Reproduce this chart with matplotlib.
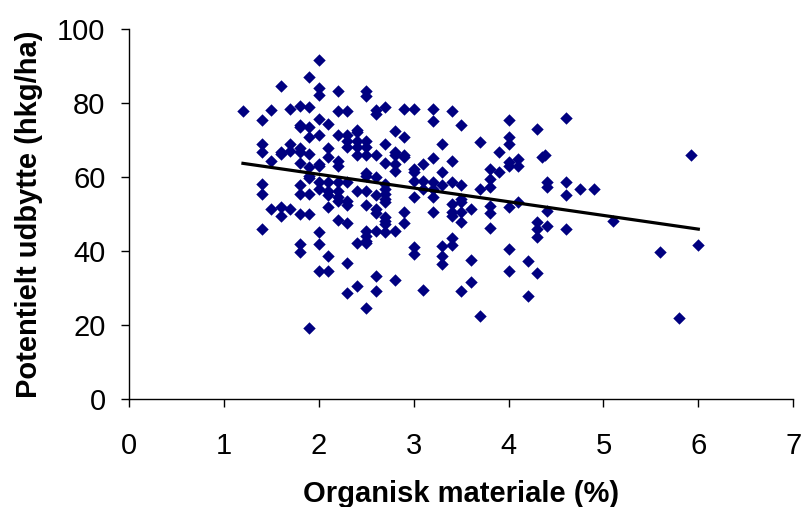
import numpy as np
import matplotlib
matplotlib.use("Agg")
import matplotlib.pyplot as plt

# ========================
# 1. Data
# ========================

organic = [
    1.2,
    1.4, 1.4, 1.4, 1.4, 1.4, 1.4,
    1.5, 1.5, 1.5,
    1.6, 1.6, 1.6, 1.6, 1.6,
    1.7, 1.7, 1.7, 1.7,
    1.8, 1.8, 1.8, 1.8, 1.8, 1.8, 1.8, 1.8, 1.8, 1.8, 1.8,
    1.9, 1.9, 1.9, 1.9, 1.9, 1.9, 1.9, 1.9, 1.9, 1.9, 1.9,
    2.0, 2.0, 2.0, 2.0, 2.0, 2.0, 2.0, 2.0, 2.0, 2.0, 2.0, 2.0,
    2.1, 2.1, 2.1, 2.1, 2.1, 2.1, 2.1, 2.1, 2.1,
    2.2, 2.2, 2.2, 2.2, 2.2, 2.2, 2.2, 2.2, 2.2, 2.2,
    2.3, 2.3, 2.3, 2.3, 2.3, 2.3, 2.3, 2.3, 2.3, 2.3,
    2.4, 2.4, 2.4, 2.4, 2.4, 2.4, 2.4, 2.4,
    2.5, 2.5, 2.5, 2.5, 2.5, 2.5, 2.5, 2.5, 2.5, 2.5, 2.5, 2.5, 2.5, 2.5,
    2.6, 2.6, 2.6, 2.6, 2.6, 2.6, 2.6, 2.6, 2.6, 2.6,
    2.7, 2.7, 2.7, 2.7, 2.7, 2.7, 2.7, 2.7, 2.7, 2.7, 2.7, 2.7,
    2.8, 2.8, 2.8, 2.8, 2.8, 2.8, 2.8,
    2.9, 2.9, 2.9, 2.9, 2.9, 2.9,
    3.0, 3.0, 3.0, 3.0, 3.0, 3.0, 3.0,
    3.1, 3.1, 3.1, 3.1,
    3.2, 3.2, 3.2, 3.2, 3.2, 3.2, 3.2,
    3.3, 3.3, 3.3, 3.3, 3.3, 3.3,
    3.4, 3.4, 3.4, 3.4, 3.4, 3.4, 3.4, 3.4,
    3.5, 3.5, 3.5, 3.5, 3.5, 3.5, 3.5,
    3.6, 3.6, 3.6,
    3.7, 3.7, 3.7,
    3.8, 3.8, 3.8, 3.8, 3.8, 3.8,
    3.9, 3.9,
    4.0, 4.0, 4.0, 4.0, 4.0, 4.0, 4.0, 4.0,
    4.1, 4.1, 4.1,
    4.2, 4.2,
    4.3, 4.3, 4.3, 4.3, 4.3,
    4.35, 4.38, 4.4, 4.4, 4.4, 4.4,
    4.6, 4.6, 4.6, 4.6,
    4.75, 4.9, 5.1, 5.6, 5.8, 5.92, 6.0,
]

yield_pot = [
    77.7,
    75.5, 68.9, 66.7, 58.1, 55.4, 45.8,
    78.0, 64.2, 51.3,
    84.6, 66.7, 66.2, 51.8, 49.5,
    78.4, 68.9, 67.1, 51.3,
    79.3, 74.1, 73.6, 67.8, 66.7, 63.8, 57.7, 55.4, 50.0, 41.9, 39.6,
    87.1, 78.8, 73.4, 70.9, 66.2, 62.6, 60.2, 59.6, 55.4, 50.0, 19.1,
    91.7, 84.0, 82.2, 75.7, 71.2, 63.5, 62.9, 58.6, 56.8, 45.0, 41.9, 34.5,
    74.3, 67.8, 65.3, 58.6, 56.3, 55.0, 51.8, 38.7, 34.7,
    83.1, 77.9, 71.2, 64.4, 62.9, 58.6, 56.1, 54.5, 53.6, 48.4,
    77.9, 71.2, 69.8, 68.0, 58.7, 53.6, 52.3, 47.5, 36.7, 28.7,
    72.7, 72.1, 69.8, 68.0, 65.9, 56.3, 42.2, 30.5,
    83.1, 81.8, 69.8, 68.0, 65.8, 61.0, 60.2, 56.1, 52.3, 45.5, 44.1, 42.8, 42.1, 24.6,
    78.1, 77.0, 65.8, 59.9, 55.0, 51.4, 50.3, 45.5, 33.3, 29.1,
    78.8, 68.9, 63.8, 58.1, 56.8, 55.4, 54.1, 53.2, 49.1, 48.2, 47.3, 45.0,
    72.3, 66.7, 66.0, 63.5, 61.7, 45.5, 32.2,
    78.4, 70.9, 66.0, 65.3, 50.6, 47.5,
    78.4, 62.2, 61.3, 59.0, 54.7, 41.0, 39.2,
    63.5, 59.0, 56.8, 29.5,
    78.4, 75.0, 65.1, 58.6, 56.8, 54.7, 50.5,
    68.9, 61.3, 57.7, 41.3, 38.7, 36.5,
    77.9, 64.2, 58.6, 52.7, 50.5, 49.5, 43.5, 41.6,
    73.9, 57.7, 54.1, 53.3, 50.5, 47.7, 29.3,
    51.4, 37.6, 31.5,
    69.5, 56.8, 22.5,
    62.2, 59.5, 57.2, 52.1, 50.3, 46.2,
    66.7, 61.3,
    75.5, 70.7, 68.9, 64.0, 62.9, 51.8, 40.5, 34.7,
    64.9, 62.9, 53.2,
    37.4, 27.9,
    73.0, 47.7, 45.9, 43.7, 34.1,
    65.3, 66.0, 58.6, 57.4, 50.9, 46.7,
    75.9, 58.6, 55.0, 45.9,
    56.7, 56.7, 48.0, 39.6, 21.8, 65.8, 41.6,
]

x_ticks = [0, 1, 2, 3, 4, 5, 6, 7]
y_ticks = [0, 20, 40, 60, 80, 100]

# ========================
# 2. Linear trend line
# ========================

x = np.array(organic)
y = np.array(yield_pot)
slope, intercept = np.polyfit(x, y, 1)
x_fit = np.array([x.min(), x.max()])
y_fit = slope * x_fit + intercept

# ========================
# 3. Plot
# ========================

plt.rcParams["font.family"] = ["Liberation Sans", "DejaVu Sans"]

fig = plt.figure(figsize=(8.02, 5.07), dpi=100)
ax = fig.add_axes([0.161, 0.213, 0.828, 0.730])

ax.scatter(x, y, marker="D", s=40, color="#000080", linewidths=0, zorder=3)
ax.plot(x_fit, y_fit, color="black", linewidth=2.3, zorder=4)

ax.set_xlim(0, 7)
ax.set_ylim(0, 100)
ax.set_xticks(x_ticks)
ax.set_yticks(y_ticks)

for side in ["top", "right"]:
    ax.spines[side].set_visible(False)
for side in ["left", "bottom"]:
    ax.spines[side].set_linewidth(1.0)

ax.tick_params(axis="both", direction="out", length=6, width=1.0, labelsize=21)
ax.tick_params(axis="x", pad=18)
ax.tick_params(axis="y", pad=11)

ax.set_xlabel("Organisk materiale (%)", fontsize=21, fontweight="bold", labelpad=14)
ax.set_ylabel("Potentielt udbytte (hkg/ha)", fontsize=21, fontweight="bold", labelpad=10)

fig.savefig("out.png", dpi=100)
plt.close(fig)

print(slope, intercept)
